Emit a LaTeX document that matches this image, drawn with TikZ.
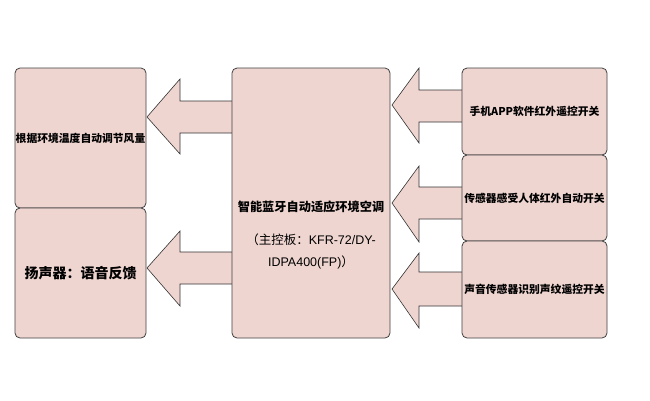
\documentclass[tikz,border=0pt]{standalone}
\usepackage{fontspec}
\setmainfont{Noto Sans CJK SC}
\newfontfamily\lat{Liberation Sans}
\begin{document}
\begin{tikzpicture}[x=1pt,y=-1pt,
  box/.style={draw=black!75, line width=0.8pt, fill=boxpink, rounded corners=5pt, inner sep=0pt, align=center},
  bigarrow/.style={draw=black!80, line width=0.6pt, fill=boxpink, line join=miter}]
\definecolor{boxpink}{HTML}{EFD5D0}
\useasboundingbox[fill=white] (0,0) rectangle (650,400);
% arrows (drawn under boxes)
\draw[bigarrow] (232,101) -- (180,101) -- (180,79) -- (147,117) -- (180,154) -- (180,133) -- (232,133);
\draw[bigarrow] (232,252) -- (180,252) -- (180,231) -- (147,268) -- (180,306) -- (180,284) -- (232,284);
\draw[bigarrow] (462,90) -- (419,90) -- (419,68) -- (392,105) -- (419,143) -- (419,122) -- (462,122);
\draw[bigarrow] (462,187) -- (419,187) -- (419,166) -- (392,203) -- (419,242) -- (419,219) -- (462,219);
\draw[bigarrow] (462,272) -- (419,272) -- (419,253) -- (392,289) -- (419,328) -- (419,306) -- (462,306);
% boxes
\node[box, minimum width=131pt, minimum height=140pt] (L1) at (80.5,138) {\fontsize{10.8}{13}\selectfont\bfseries 根据环境温度自动调节风量};
\node[box, minimum width=131pt, minimum height=130pt] (L2) at (80.5,273) {\fontsize{14}{17}\selectfont\bfseries 扬声器：语音反馈};
\node[box, minimum width=158pt, minimum height=270pt] (C) at (311,203) {};
\node (Ct) at (311,207) {\fontsize{12.2}{15}\selectfont\bfseries 智能蓝牙自动适应环境空调};
\node[align=center, font=\fontsize{12.5}{22}\selectfont] (Cs) at (311,251) {（主控板：{\lat KFR-72/DY-}\\ {\lat IDPA400(FP)}）};
\node[box, minimum width=145pt, minimum height=87pt] (R1) at (534.5,111.5) {\fontsize{10.8}{13}\selectfont\bfseries 手机APP软件红外遥控开关};
\node[box, minimum width=145pt, minimum height=86pt] (R2) at (534.5,198) {\fontsize{10.8}{13}\selectfont\bfseries 传感器感受人体红外自动开关};
\node[box, minimum width=145pt, minimum height=97pt] (R3) at (534.5,289.5) {\fontsize{10.8}{13}\selectfont\bfseries 声音传感器识别声纹遥控开关};
\end{tikzpicture}
\end{document}
